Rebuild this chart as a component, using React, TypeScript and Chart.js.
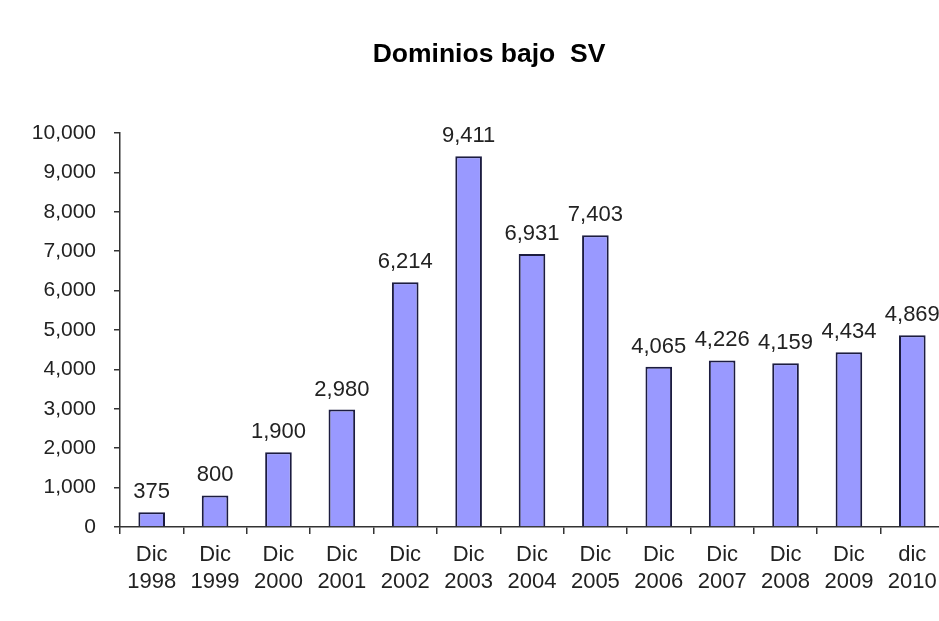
import React, { useEffect, useRef } from "react";
import { Chart, registerables } from "chart.js";

Chart.register(...registerables);

const categories: string[][] = [
  ["Dic", "1998"], ["Dic", "1999"], ["Dic", "2000"], ["Dic", "2001"],
  ["Dic", "2002"], ["Dic", "2003"], ["Dic", "2004"], ["Dic", "2005"],
  ["Dic", "2006"], ["Dic", "2007"], ["Dic", "2008"], ["Dic", "2009"],
  ["dic", "2010"],
];
const domainValues: number[] = [375, 800, 1900, 2980, 6214, 9411, 6931, 7403, 4065, 4226, 4159, 4434, 4869];
const titleText = "Dominios bajo  SV";
const yMin = 0;
const yMax = 10000;
const yStep = 1000;

const FONT = "'Liberation Sans', Arial, sans-serif";
const fmt = (v: number) => v.toLocaleString("en-US");

const valueLabels = {
  id: "valueLabels",
  afterDatasetsDraw(chart: any) {
    const ctx = chart.ctx;
    const meta = chart.getDatasetMeta(0);
    ctx.save();
    ctx.font = `22px ${FONT}`;
    ctx.fillStyle = "#222";
    ctx.textAlign = "center";
    ctx.textBaseline = "alphabetic";
    meta.data.forEach((bar: any, i: number) => {
      ctx.fillText(fmt(domainValues[i]), bar.x, bar.y - 14);
    });
    ctx.restore();
  },
};

const chartTitle = {
  id: "chartTitle",
  afterDraw(chart: any) {
    const ctx = chart.ctx;
    ctx.save();
    ctx.font = `bold 26.5px ${FONT}`;
    ctx.fillStyle = "#000";
    ctx.textAlign = "center";
    ctx.textBaseline = "alphabetic";
    ctx.fillText(titleText, 489, 62);
    ctx.restore();
  },
};

export default function App() {
  const ref = useRef<HTMLCanvasElement>(null);
  useEffect(() => {
    if (!ref.current) return;
    const chart = new Chart(ref.current, {
      type: "bar",
      data: {
        labels: categories,
        datasets: [
          {
            data: domainValues,
            backgroundColor: "#9999ff",
            borderColor: "#1c1c40",
            borderWidth: 2,
            barPercentage: 0.42,
            categoryPercentage: 1,
          },
        ],
      },
      options: {
        responsive: false,
        animation: false,
        layout: { padding: { left: 0, right: 16, top: 133, bottom: 0 } },
        plugins: {
          legend: { display: false },
          tooltip: { enabled: false },
          title: { display: false },
        },
        scales: {
          x: {
            offset: true,
            grid: { offset: true, drawOnChartArea: false, drawTicks: true, tickLength: 7, color: "#333", lineWidth: 1.5 },
            border: { color: "#333", width: 1.5 },
            ticks: { color: "#222", font: { family: FONT, size: 22, lineHeight: 1.22 }, padding: 8, maxRotation: 0, autoSkip: false },
            afterFit: (s: any) => { s.height = 94; },
          },
          y: {
            min: yMin,
            max: yMax,
            grid: { drawOnChartArea: false, drawTicks: true, tickLength: 6, color: "#333", lineWidth: 1.5 },
            border: { color: "#333", width: 1.5 },
            ticks: { stepSize: yStep, color: "#222", font: { family: FONT, size: 21 }, padding: 18, callback: (v: any) => fmt(Number(v)) },
            afterFit: (s: any) => { s.width = 120; },
          },
        },
      },
      plugins: [valueLabels, chartTitle],
    });
    return () => chart.destroy();
  }, []);
  return (
    <div style={{ position: "fixed", left: 0, top: 0, width: 939, height: 621, overflow: "hidden", background: "#fff" }}>
      <canvas ref={ref} width={960} height={621} style={{ display: "block" }} />
    </div>
  );
}
